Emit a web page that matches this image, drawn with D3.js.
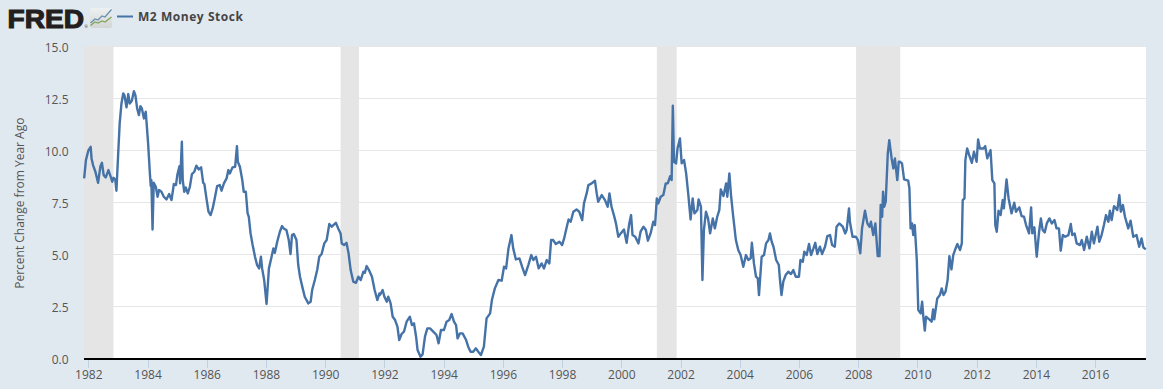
<!DOCTYPE html>
<html>
<head>
<meta charset="utf-8">
<script src="https://cdn.jsdelivr.net/npm/d3@7"></script>
<style>
  html, body { margin: 0; padding: 0; background: #e1e9f0; overflow: hidden; }
  text { font-family: "Open Sans", sans-serif; }
  .grid line { stroke: #e6e6e6; stroke-width: 1; shape-rendering: crispEdges; }
  .x-axis line { stroke: #c0d0e0; shape-rendering: crispEdges; }
  .x-axis text, .y-axis text { fill: #555; font-size: 12px; }
</style>
</head>
<body>
<div id="chart"></div>
<script>
// dates as decimal years, values in percent change from year ago
const years = [
  1981.86,1981.92,1982.00,1982.08,1982.11,1982.16,1982.24,1982.33,1982.41,1982.46,1982.52,1982.59,1982.68,1982.75,1982.81,1982.85,1982.91,1982.95,
  1983.01,1983.06,1983.12,1983.18,1983.22,1983.29,1983.35,1983.40,1983.47,1983.54,1983.59,1983.65,1983.71,1983.76,1983.81,1983.88,1983.94,1983.97,
  1984.02,1984.08,1984.11,1984.13,1984.17,1984.21,1984.28,1984.34,1984.39,1984.47,1984.55,1984.64,1984.73,1984.81,1984.89,1984.96,
  1985.01,1985.08,1985.10,1985.16,1985.19,1985.24,1985.29,1985.36,1985.43,1985.50,1985.58,1985.65,1985.73,1985.81,1985.88,1985.92,1985.99,
  1986.06,1986.13,1986.20,1986.27,1986.35,1986.44,1986.50,1986.58,1986.67,1986.73,1986.78,1986.87,1986.96,
  1987.02,1987.05,1987.12,1987.20,1987.25,1987.32,1987.38,1987.42,1987.48,1987.55,1987.63,1987.70,1987.77,1987.83,1987.87,1987.94,
  1988.02,1988.10,1988.19,1988.25,1988.30,1988.38,1988.47,1988.54,1988.60,1988.69,1988.77,1988.83,1988.88,1988.94,
  1989.03,1989.09,1989.15,1989.24,1989.31,1989.43,1989.51,1989.56,1989.65,1989.73,1989.80,1989.88,1989.97,
  1990.05,1990.14,1990.22,1990.36,1990.44,1990.52,1990.56,1990.64,1990.72,1990.79,1990.86,1990.95,
  1991.04,1991.12,1991.20,1991.29,1991.34,1991.40,1991.49,1991.58,1991.67,1991.76,1991.83,1991.85,1991.94,
  1992.00,1992.08,1992.13,1992.21,1992.28,1992.36,1992.44,1992.50,1992.58,1992.66,1992.75,1992.86,1992.93,
  1993.00,1993.07,1993.12,1993.22,1993.29,1993.37,1993.45,1993.54,1993.65,1993.76,1993.83,1993.91,
  1994.01,1994.10,1994.19,1994.27,1994.35,1994.42,1994.47,1994.55,1994.64,1994.76,1994.83,1994.91,
  1995.00,1995.09,1995.17,1995.26,1995.36,1995.45,1995.57,1995.63,1995.73,1995.85,1995.96,
  1996.04,1996.11,1996.19,1996.29,1996.35,1996.44,1996.56,1996.65,1996.75,1996.86,1996.96,
  1997.03,1997.12,1997.21,1997.31,1997.39,1997.48,1997.57,1997.63,1997.70,1997.79,1997.91,
  1998.00,1998.07,1998.16,1998.22,1998.29,1998.38,1998.49,1998.58,1998.68,1998.74,1998.83,1998.89,
  1999.00,1999.11,1999.17,1999.22,1999.34,1999.45,1999.54,1999.60,1999.67,1999.75,1999.82,1999.90,1999.98,
  2000.09,2000.18,2000.27,2000.33,2000.38,2000.47,2000.58,2000.65,2000.75,2000.83,2000.90,2000.99,
  2001.08,2001.14,2001.20,2001.25,2001.33,2001.42,2001.50,2001.57,2001.65,2001.70,2001.74,2001.78,2001.85,2001.90,2001.98,
  2002.04,2002.12,2002.19,2002.27,2002.34,2002.41,2002.47,2002.57,2002.61,2002.69,2002.74,2002.79,2002.86,2002.93,
  2003.00,2003.09,2003.16,2003.24,2003.31,2003.36,2003.45,2003.54,2003.58,2003.65,2003.71,2003.78,2003.87,2003.95,
  2004.03,2004.12,2004.21,2004.29,2004.37,2004.41,2004.48,2004.55,2004.61,2004.65,2004.74,2004.82,2004.89,2004.97,
  2005.02,2005.08,2005.14,2005.23,2005.32,2005.36,2005.41,2005.47,2005.55,2005.64,2005.73,2005.81,2005.89,
  2006.00,2006.05,2006.13,2006.18,2006.26,2006.34,2006.41,2006.49,2006.55,2006.62,2006.71,2006.78,2006.88,2006.96,
  2007.05,2007.12,2007.21,2007.27,2007.36,2007.48,2007.56,2007.61,2007.69,2007.72,2007.81,2007.92,2007.99,
  2008.07,2008.13,2008.23,2008.31,2008.38,2008.43,2008.51,2008.58,2008.66,2008.72,2008.76,2008.81,2008.84,2008.88,2008.93,
  2009.00,2009.05,2009.13,2009.19,2009.24,2009.32,2009.37,2009.41,2009.48,2009.55,2009.69,2009.73,2009.77,2009.82,2009.86,2009.91,2009.98,
  2010.03,2010.11,2010.16,2010.20,2010.25,2010.29,2010.40,2010.48,2010.53,2010.57,2010.67,2010.76,2010.82,2010.88,2010.95,
  2011.02,2011.08,2011.15,2011.21,2011.27,2011.35,2011.44,2011.50,2011.53,2011.59,2011.62,2011.68,2011.75,2011.84,2011.91,
  2012.00,2012.05,2012.11,2012.23,2012.29,2012.36,2012.47,2012.53,2012.60,2012.63,2012.68,2012.74,2012.81,2012.88,2012.92,
  2013.01,2013.08,2013.18,2013.27,2013.33,2013.44,2013.52,2013.60,2013.67,2013.77,2013.84,2013.88,2013.95,
  2014.03,2014.11,2014.17,2014.23,2014.30,2014.37,2014.46,2014.54,2014.63,2014.70,2014.78,2014.84,2014.91,2014.99,
  2015.10,2015.18,2015.23,2015.31,2015.38,2015.49,2015.55,2015.63,2015.72,2015.81,2015.89,2015.96,
  2016.08,2016.14,2016.22,2016.30,2016.37,2016.45,2016.50,2016.56,2016.64,2016.75,2016.82,2016.87,2016.94,
  2017.01,2017.12,2017.20,2017.29,2017.40,2017.49,2017.57,2017.63,2017.71
]
const values = [
  8.69,9.57,10.02,10.21,9.65,9.33,9.01,8.48,9.28,9.44,8.85,8.74,9.09,8.80,8.53,8.72,8.64,8.10,
  9.89,11.33,12.29,12.77,12.69,12.10,12.74,12.29,12.42,12.88,12.69,12.05,11.73,12.16,12.05,11.57,11.89,11.33,
  10.37,8.93,8.32,8.61,6.24,8.48,8.29,7.81,8.13,8.05,7.81,7.68,7.94,7.65,8.42,8.37,
  8.88,9.28,8.45,10.45,8.61,8.05,8.26,7.97,8.29,8.90,9.01,9.30,9.12,9.22,8.48,8.42,7.73,
  7.09,6.93,7.25,7.73,8.32,8.37,8.10,8.45,8.69,9.09,8.93,9.22,9.25,
  10.24,9.49,9.25,8.61,8.05,8.05,7.01,6.85,6.05,5.49,4.93,4.53,4.37,4.93,4.37,3.81,
  2.66,4.37,4.93,5.33,5.12,5.65,6.13,6.40,6.29,6.21,5.73,5.06,5.97,6.02,
  5.73,4.53,3.97,3.41,3.01,2.69,2.77,3.33,3.81,4.29,4.93,5.06,5.57,
  5.73,6.50,6.37,6.56,6.29,6.05,5.57,5.49,5.60,5.09,4.29,3.73,
  3.68,3.97,3.81,4.21,4.16,4.48,4.26,3.97,3.33,2.85,3.17,3.09,3.33,
  3.01,2.77,3.01,2.69,2.05,1.89,1.57,0.93,1.22,1.33,1.81,2.05,1.65,
  1.73,1.09,0.45,0.13,0.24,1.09,1.49,1.49,1.33,1.17,0.77,1.41,
  1.41,1.81,1.89,2.18,1.81,1.65,1.01,1.25,1.25,0.93,0.61,0.37,
  0.37,0.53,0.37,0.21,0.61,1.97,2.21,2.85,3.41,3.81,3.78,
  4.45,4.37,5.33,5.97,5.33,4.80,4.85,4.45,4.05,4.53,5.01,
  4.77,4.93,4.37,4.61,4.37,4.77,4.61,5.73,5.73,5.54,5.65,
  5.49,5.81,6.37,6.72,6.61,7.09,7.20,7.09,6.69,7.49,7.97,8.37,
  8.45,8.58,7.97,7.57,7.89,7.65,7.33,7.97,7.33,6.93,6.53,5.89,6.05,
  6.24,5.60,6.53,6.93,5.97,5.89,5.57,6.13,6.37,6.21,5.70,6.05,
  6.61,6.45,7.73,7.49,7.81,7.89,8.45,8.45,8.80,8.61,12.18,9.49,9.41,10.13,10.61,
  9.41,9.57,8.93,7.81,6.72,7.73,7.01,7.17,7.68,7.33,3.81,6.21,7.09,6.77,
  6.05,6.77,6.29,6.85,7.17,8.16,7.84,8.45,7.81,8.93,7.81,6.85,5.73,5.25,
  5.01,4.45,5.01,4.77,4.85,5.60,4.61,3.97,3.89,3.09,4.93,5.01,5.57,5.73,
  6.05,5.65,5.41,4.77,4.53,3.81,3.09,3.73,4.05,4.21,4.10,4.29,3.97,
  3.97,4.77,4.69,5.17,5.01,5.54,5.01,5.33,5.60,5.06,5.41,5.06,5.41,5.92,
  5.97,5.49,5.41,6.37,6.53,6.37,6.05,6.21,7.25,6.61,5.89,5.89,5.73,
  5.09,6.29,7.14,6.53,6.37,6.61,5.97,6.53,4.96,4.96,7.41,6.85,8.05,7.33,7.57,
  9.89,10.53,9.65,9.17,9.65,8.61,9.49,9.49,9.41,8.64,8.58,8.21,6.29,6.53,5.97,6.45,4.77,
  2.37,2.21,2.77,2.05,1.38,2.05,1.92,1.81,2.40,1.92,2.93,3.09,3.41,3.09,3.25,
  3.81,4.96,4.32,5.01,5.25,5.54,5.25,5.57,7.65,7.73,9.57,10.13,9.81,9.44,9.97,
  9.49,10.56,10.13,10.13,10.24,9.65,10.05,8.61,8.45,6.45,6.13,7.14,6.93,7.65,7.25,
  8.64,7.73,7.01,7.52,7.09,7.30,6.88,6.85,6.45,6.05,7.30,6.05,6.34,
  4.93,6.13,6.77,6.21,6.10,6.53,6.77,6.53,6.69,6.29,6.29,5.22,5.97,5.89,
  5.97,6.50,5.97,6.05,5.57,5.49,5.73,5.25,5.89,5.33,6.13,5.57,
  6.37,5.65,5.97,6.45,6.93,6.61,7.14,6.69,7.36,7.17,7.89,7.09,7.41,
  6.85,6.29,6.66,5.89,5.97,5.41,5.81,5.38,5.28
]
const recessionStart = [1981.855, 1990.52, 2001.2, 2007.93]
const recessionEnd = [1982.85, 1991.14, 2001.87, 2009.42]
const yTicks = [0, 2.5, 5, 7.5, 10, 12.5, 15]
const xTicks = [1982, 1984, 1986, 1988, 1990, 1992, 1994, 1996, 1998, 2000, 2002, 2004, 2006, 2008, 2010, 2012, 2014, 2016]
const seriesName = "M2 Money Stock"
const yTitle = "Percent Change from Year Ago"

//set svg
const width = 1163,
    height = 389

const plot = { left: 84, right: 1146, top: 47, bottom: 359.4 }

const svg = d3.select("#chart")
      .append("svg")
        .attr("width", width)
        .attr("height", height)
        .style("display", "block")

// scales
const x = d3.scaleLinear()
        .domain([1981.855, 2017.72])
        .range([plot.left, plot.right])

const y = d3.scaleLinear()
        .domain([0, 15])
        .range([plot.bottom, plot.top])

// plot background
svg.append("rect")
    .attr("x", plot.left)
    .attr("y", plot.top)
    .attr("width", plot.right - plot.left)
    .attr("height", plot.bottom - plot.top)
    .attr("fill", "#fff")

// gridlines
svg.append("g")
    .attr("class", "grid")
    .selectAll("line")
    .data(yTicks.slice(1))
    .join("line")
      .attr("x1", plot.left)
      .attr("x2", plot.right)
      .attr("y1", d => Math.round(y(d)) - 0.5)
      .attr("y2", d => Math.round(y(d)) - 0.5)

// recession bands sit on top of the grid
svg.append("g")
    .selectAll("rect")
    .data(recessionStart)
    .join("rect")
      .attr("x", d => x(d))
      .attr("y", plot.top)
      .attr("width", (d, i) => x(recessionEnd[i]) - x(d))
      .attr("height", plot.bottom - plot.top)
      .attr("fill", "#e5e5e5")

// x axis
const xAxis = d3.axisBottom(x)
        .tickValues(xTicks)
        .tickFormat(d3.format("d"))
        .tickSize(9)
        .tickSizeOuter(0)

const xG = svg.append("g")
    .attr("class", "x-axis")
    .attr("transform", `translate(0,${plot.bottom})`)
    .call(xAxis)
xG.select(".domain").remove()
xG.selectAll("text").attr("dy", "0.95em").attr("y", 8)

// y axis
const yAxis = d3.axisLeft(y)
        .tickValues(yTicks)
        .tickFormat(d3.format(".1f"))
        .tickSize(0)

const yG = svg.append("g")
    .attr("class", "y-axis")
    .attr("transform", `translate(${plot.left},0)`)
    .call(yAxis)
yG.select(".domain").remove()
yG.selectAll("text").attr("x", -15.5).attr("dy", "0.38em")

// line
const line = d3.line()
        .x(d => x(d))
        .y((d, i) => y(values[i]))

svg.append("path")
    .datum(years)
    .attr("d", line)
    .attr("fill", "none")
    .attr("stroke", "#4572a7")
    .attr("stroke-width", 2.4)
    .attr("stroke-linejoin", "round")

// baseline
svg.append("line")
    .attr("x1", plot.left)
    .attr("x2", plot.right)
    .attr("y1", 359)
    .attr("y2", 359)
    .attr("stroke", "#000")
    .attr("stroke-width", 2)
    .style("shape-rendering", "crispEdges")

// axis title
svg.append("text")
    .attr("transform", `translate(24,${(plot.top + plot.bottom) / 2}) rotate(-90)`)
    .attr("text-anchor", "middle")
    .attr("fill", "#555")
    .style("font-size", "12px")
    .text(yTitle)

// logo
svg.append("text")
    .attr("x", 7.5)
    .attr("y", 27.5)
    .attr("fill", "#231f20")
    .attr("stroke", "#231f20")
    .attr("stroke-width", 1.1)
    .attr("textLength", 76.5)
    .attr("lengthAdjust", "spacingAndGlyphs")
    .style("font-family", "'Liberation Sans', sans-serif")
    .style("font-size", "26px")
    .style("font-weight", "700")
    .text("FRED")

svg.append("text")
    .attr("x", 84.5)
    .attr("y", 28)
    .attr("fill", "#231f20")
    .style("font-size", "4px")
    .text("®")

// little chart icon next to the logo
const iconFill = svg.append("defs").append("linearGradient")
    .attr("id", "iconFill")
    .attr("x1", 0).attr("x2", 0).attr("y1", 0).attr("y2", 1)
iconFill.append("stop").attr("offset", "0%").attr("stop-color", "#eef1f2")
iconFill.append("stop").attr("offset", "100%").attr("stop-color", "#d3d5d4")

svg.append("rect")
    .attr("x", 90)
    .attr("y", 8)
    .attr("width", 22)
    .attr("height", 20)
    .attr("rx", 2)
    .attr("fill", "url(#iconFill)")

const iconPath = d3.line()
const iconBlue = [[90.5, 23], [95, 19], [98, 20], [102, 16], [105, 17], [111.5, 9.5]]
const iconGreen = [[90.5, 25.5], [95, 22], [98, 23], [102, 21], [105, 22], [111.5, 17]]
svg.append("path").attr("d", iconPath(iconBlue))
    .attr("fill", "none").attr("stroke", "#6a8fae").attr("stroke-width", 1.3)
svg.append("path").attr("d", iconPath(iconGreen))
    .attr("fill", "none").attr("stroke", "#7fa65c").attr("stroke-width", 1.3)

// legend
svg.append("line")
    .attr("x1", 117)
    .attr("x2", 133)
    .attr("y1", 16.5)
    .attr("y2", 16.5)
    .attr("stroke", "#4572a7")
    .attr("stroke-width", 2)

svg.append("text")
    .attr("x", 138)
    .attr("y", 21)
    .attr("fill", "#444")
    .style("font-size", "12px")
    .style("font-weight", "700")
    .style("letter-spacing", "0.55px")
    .text(seriesName)
</script>
</body>
</html>
